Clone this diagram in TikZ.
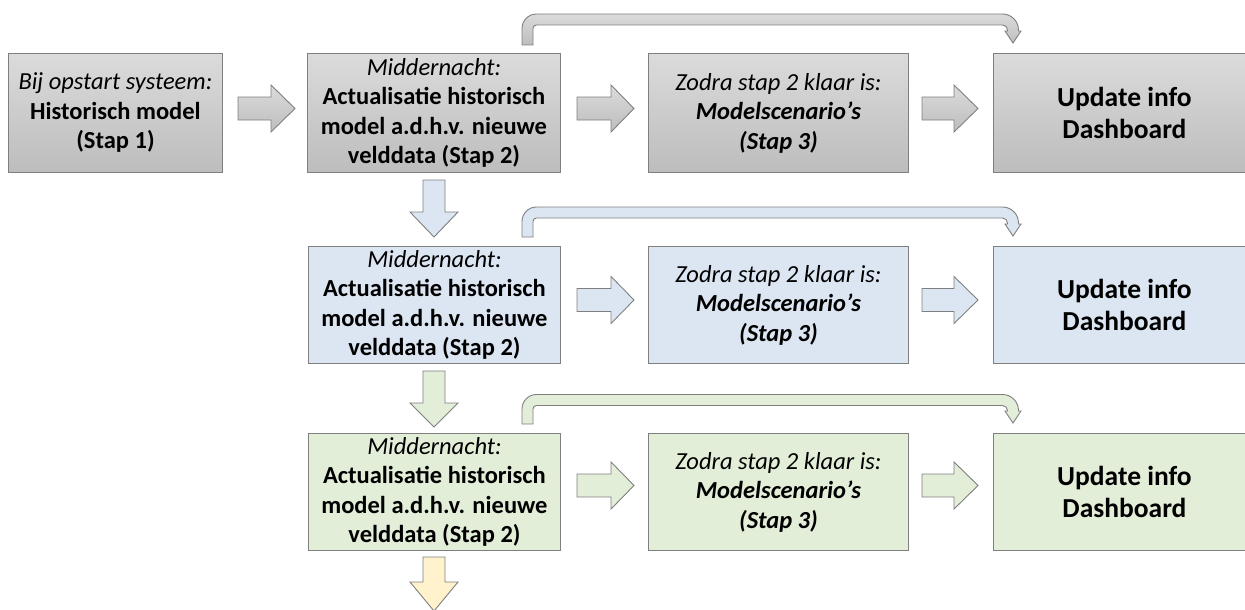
\documentclass[tikz,border=0pt]{standalone}
\usepackage{fontspec}
\setmainfont{Carlito}
\definecolor{edgegray}{HTML}{7F7F7F}
\definecolor{graytop}{HTML}{DBDBDB}
\definecolor{graybot}{HTML}{BDBDBD}
\definecolor{paleblue}{HTML}{DCE6F2}
\definecolor{palegreen}{HTML}{E3EED9}
\definecolor{paleyellow}{HTML}{FFF2CC}

% right-pointing block arrow: tail x, head start x, tip x, centre y, style
\newcommand{\blockright}[5]{%
  \draw[#5] (#1,#4-11.5) -- (#2,#4-11.5) -- (#2,#4-23.5) -- (#3,#4)
    -- (#2,#4+23.5) -- (#2,#4+11.5) -- (#1,#4+11.5) -- cycle;}
% down-pointing block arrow: tail y, head start y, tip y, style
\newcommand{\blockdown}[4]{%
  \draw[#4] (423,#1) -- (445,#1) -- (445,#2) -- (458,#2) -- (434,#3)
    -- (410,#2) -- (423,#2) -- cycle;}
% bent band from the step-2 box over to the dashboard box:
% stem bottom y, band centre y, head base y, tip y, style
\newcommand{\bentarrow}[5]{%
  \draw[#5] (522,#1) -- (522,#2+9)
    arc[start angle=180,end angle=90,radius=14.5pt] -- (1002.5,#2-5.5)
    arc[start angle=90,end angle=0,radius=16pt] -- (1018.5,#3)
    -- (1021,#3) -- (1013,#4) -- (1005,#3) -- (1007.5,#3) -- (1007.5,#2+10.5)
    arc[start angle=0,end angle=90,radius=5pt] -- (536.5,#2+5.5)
    arc[start angle=90,end angle=180,radius=3.5pt] -- (533,#1) -- cycle;}

\begin{document}
\begin{tikzpicture}[x=1pt,y=-1pt,
  box/.style={draw=edgegray, line width=0.9pt, inner sep=0pt, align=center,
    anchor=north west, font=\fontsize{24.5}{29.5}\selectfont},
  graybox/.style={box, top color=graytop, bottom color=graybot},
  bluebox/.style={box, fill=paleblue},
  greenbox/.style={box, fill=palegreen},
  dashfont/.style={font=\fontsize{27.5}{32}\selectfont},
  grayarrow/.style={draw=edgegray, line width=0.9pt, top color=graytop, bottom color=graybot},
  bluearrow/.style={draw=edgegray, line width=0.9pt, fill=paleblue},
  greenarrow/.style={draw=edgegray, line width=0.9pt, fill=palegreen},
  yellowarrow/.style={draw=edgegray, line width=0.9pt, fill=paleyellow}]
\useasboundingbox (0,0) rectangle (1245,610);
\clip (0,0) rectangle (1245,610);

% row 1: start-up and first night
\node[graybox, minimum width=214pt, minimum height=119pt] (start) at (8,53)
  {{\itshape Bij opstart systeem:}\\\textbf{Historisch model}\\\textbf{(Stap 1)}};
\node[graybox, minimum width=253pt, minimum height=119pt] (act1) at (307,53)
  {{\itshape Middernacht:}\\\textbf{Actualisatie historisch}\\\textbf{model a.d.h.v. nieuwe}\\\textbf{velddata (Stap 2)}};
\node[graybox, minimum width=260pt, minimum height=119pt] (scen1) at (648,53)
  {{\itshape Zodra stap 2 klaar is:}\\\textbf{\itshape Modelscenario’s}\\\textbf{\itshape (Stap 3)}};
\node[graybox, dashfont, minimum width=262pt, minimum height=119pt] (dash1) at (993,53)
  {\textbf{Update info}\\\textbf{Dashboard}};

% row 2
\node[bluebox, minimum width=252pt, minimum height=117pt] (act2) at (308,246)
  {{\itshape Middernacht:}\\\textbf{Actualisatie historisch}\\\textbf{model a.d.h.v. nieuwe}\\\textbf{velddata (Stap 2)}};
\node[bluebox, minimum width=260pt, minimum height=117pt] (scen2) at (648,246)
  {{\itshape Zodra stap 2 klaar is:}\\\textbf{\itshape Modelscenario’s}\\\textbf{\itshape (Stap 3)}};
\node[bluebox, dashfont, minimum width=262pt, minimum height=117pt] (dash2) at (993,246)
  {\textbf{Update info}\\\textbf{Dashboard}};

% row 3
\node[greenbox, minimum width=252pt, minimum height=117pt] (act3) at (308,433)
  {{\itshape Middernacht:}\\\textbf{Actualisatie historisch}\\\textbf{model a.d.h.v. nieuwe}\\\textbf{velddata (Stap 2)}};
\node[greenbox, minimum width=260pt, minimum height=117pt] (scen3) at (648,433)
  {{\itshape Zodra stap 2 klaar is:}\\\textbf{\itshape Modelscenario’s}\\\textbf{\itshape (Stap 3)}};
\node[greenbox, dashfont, minimum width=262pt, minimum height=117pt] (dash3) at (993,433)
  {\textbf{Update info}\\\textbf{Dashboard}};

% horizontal block arrows
\blockright{238}{271}{295}{108.5}{grayarrow}
\blockright{577}{611}{634}{108.5}{grayarrow}
\blockright{922}{954}{978}{108.5}{grayarrow}
\blockright{577}{611}{634}{300}{bluearrow}
\blockright{922}{954}{978}{300}{bluearrow}
\blockright{577}{611}{634}{485.5}{greenarrow}
\blockright{922}{954}{978}{485.5}{greenarrow}

% vertical block arrows to the next night
\blockdown{180}{212}{237}{bluearrow}
\blockdown{371}{403}{427}{greenarrow}
\blockdown{557}{582}{611}{yellowarrow}

% bent arrows straight to the dashboard
\bentarrow{45}{19.5}{31}{43}{grayarrow}
\bentarrow{237}{212.5}{224}{236}{bluearrow}
\bentarrow{424}{400}{411}{423}{greenarrow}
\end{tikzpicture}
\end{document}
